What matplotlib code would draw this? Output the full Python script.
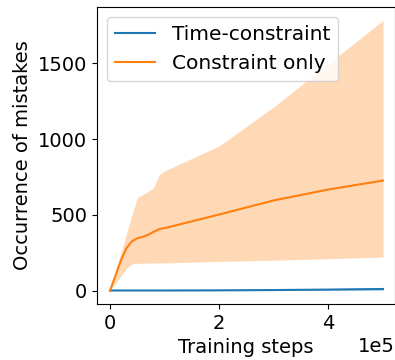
import numpy as np
import matplotlib.pyplot as plt

plt.rcParams['font.size'] = 14

# training steps (in units of 1e5 after offset)
steps = np.array([0, 0.1, 0.2, 0.3, 0.4, 0.5, 0.6, 0.7, 0.8, 0.9, 1.0, 2.0, 3.0, 4.0, 5.0]) * 1e5

# constraint only: mean and band
co_mean = np.array([0, 100, 200, 280, 325, 345, 355, 368, 388, 405, 412, 502, 595, 667, 726])
co_upper = np.array([0, 125, 250, 375, 500, 615, 635, 655, 680, 765, 790, 955, 1213, 1498, 1783])
co_lower = np.array([0, 48, 97, 146, 175, 180, 180, 181, 181, 182, 182, 192, 200, 210, 221])

# time-constraint: mean and band
tc_mean = np.array([0, 0, 0, 0, 0, 0, 0, 0, 0, 0, 0, 1, 3, 6, 10])
tc_upper = np.array([0, 0, 0, 0, 0, 0, 0, 0, 0, 0, 1, 3, 7, 13, 20])
tc_lower = np.array([0, 0, 0, 0, 0, 0, 0, 0, 0, 0, 0, 0, 0, 0, 1])

fig = plt.figure(figsize=(3.95, 3.6), dpi=100)
ax = fig.add_axes([97/395, 1 - 304/360, 298/395, 297/360])

ax.plot(steps, tc_mean, color="tab:blue", label="Time-constraint")
ax.fill_between(steps, tc_lower, tc_upper, color="tab:blue", alpha=0.3, linewidth=0)
ax.plot(steps, co_mean, color="tab:orange", label="Constraint only")
ax.fill_between(steps, co_lower, co_upper, color="tab:orange", alpha=0.3, linewidth=0)

ax.set_xlim(-0.24e5, 5.22e5)
ax.ticklabel_format(axis="x", style="sci", scilimits=(0, 0))
ax.set_xlabel("Training steps")
ax.set_ylabel("Occurrence of mistakes")
ax.legend(loc="upper left", fontsize=14.5)

fig.savefig("out.png", dpi=100)
